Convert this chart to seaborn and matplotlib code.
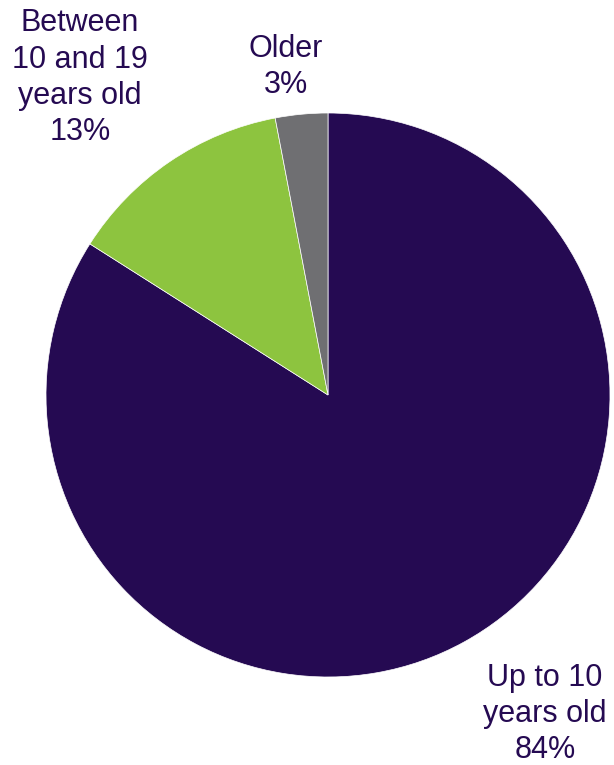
import matplotlib
matplotlib.use("Agg")
import matplotlib.pyplot as plt
import seaborn as sns

# data
categories = ["Up to 10\nyears old", "Between\n10 and 19\nyears old", "Older"]
shares = [84, 13, 3]
colors = ["#250A52", "#8DC43F", "#6F6F72"]

# label anchor points (pixel coords from top-left; y = last-line baseline)
label_pos = [(545, 758), (80, 140), (286, 93)]

W, H = 614, 765
sns.set_theme(style="white")
plt.rcParams["font.family"] = ["Liberation Sans", "DejaVu Sans"]

fig = plt.figure(figsize=(W / 100, H / 100), dpi=100)
ax = fig.add_axes([0, 0, 1, 1])

ax.pie(shares, colors=colors, startangle=90, counterclock=False,
       center=(328, H - 395), radius=282, frame=True,
       wedgeprops={"linewidth": 0.5, "edgecolor": "white"})
ax.set_xlim(0, W); ax.set_ylim(0, H)
ax.set_aspect("equal")
ax.axis("off")

for cat, v, (x, y) in zip(categories, shares, label_pos):
    ax.text(x, H - y, f"{cat}\n{v}%", ha="center", va="baseline",
            fontsize=22, color="#250A52", linespacing=1.27)

fig.savefig("out.png", dpi=100)
plt.close(fig)
